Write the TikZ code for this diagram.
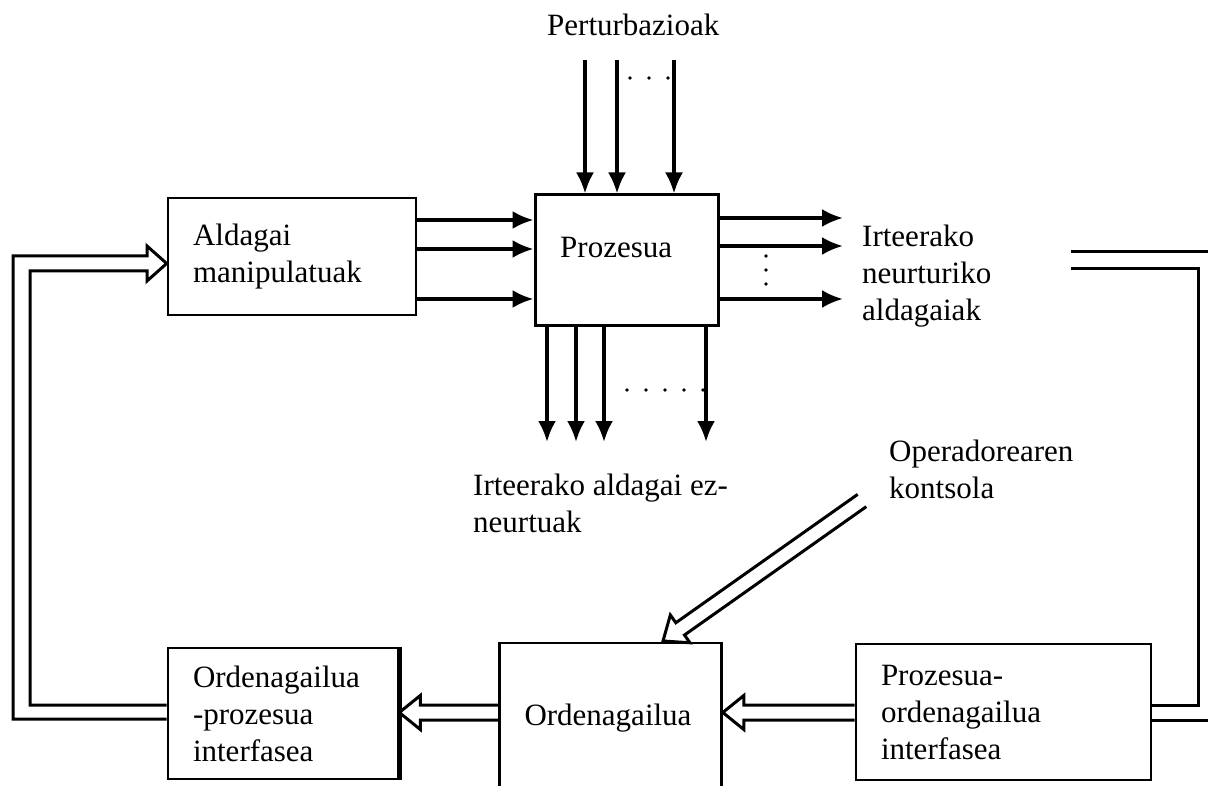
\documentclass[tikz,border=0pt]{standalone}
\usepackage{fontspec}
\setmainfont{Liberation Serif}
\usetikzlibrary{arrows.meta,calc}

% hollow (double-line) arrow from #1 to #2
\newcommand\hollowarrow[2]{%
  \path (#1) coordinate (ha-s) (#2) coordinate (ha-t);
  \path ($(ha-t)!21pt!(ha-s)$) coordinate (ha-b);
  \draw[dbl] ($(ha-s)!7.5pt!90:(ha-t)$) -- ($(ha-b)!7.5pt!90:(ha-t)$)
     -- ($(ha-b)!17pt!90:(ha-t)$) -- (ha-t) -- ($(ha-b)!17pt!-90:(ha-t)$)
     -- ($(ha-b)!7.5pt!-90:(ha-t)$) -- ($(ha-s)!7.5pt!-90:(ha-t)$);
}

\begin{document}
\begin{tikzpicture}[x=1pt,y=-1pt,
  every node/.style={font=\fontsize{31}{37}\selectfont, inner sep=0pt},
  box/.style={draw, line width=2.6pt, align=left},
  arr/.style={line width=3.2pt, -{Latex[length=21pt,width=18pt]}},
  dbl/.style={line width=3pt},
  lbl/.style={anchor=base west, align=left},
  dot/.style={fill=black}]
\useasboundingbox (0,0) rectangle (1208,786);
\clip (0,0) rectangle (1208,786);

% blocks
\node[box, minimum width=248pt, minimum height=117pt, text width=198pt] (am) at (292,256.5) {Aldagai\\manipulatuak};
\node[box, line width=3pt, minimum width=183pt, minimum height=131pt] (pr) at (626.5,260.5) {};
\node[lbl] (prlbl) at (560,258) {Prozesua};
\node[box, minimum width=230pt, minimum height=131pt, text width=180pt] (oi) at (283,713.5) {Ordenagailua\\-prozesua\\interfasea};
\draw[line width=4.5pt] (oi.north east) -- (oi.south east);
\node[box, minimum width=222pt, minimum height=150pt, text width=172pt] (ord) at (610.5,718) {Ordenagailua};
\node[box, minimum width=295pt, minimum height=136pt, text width=245pt] (po) at (1003.5,712) {Prozesua-\\ordenagailua\\interfasea};

% labels (base = baseline of the last line)
\node[lbl] (pert) at (547,36) {Perturbazioak};
\node[lbl] (outm) at (862,321) {Irteerako\\neurturiko\\aldagaiak};
\node[lbl] (outu) at (473,532) {Irteerako aldagai ez-\\neurtuak};
\node[lbl] (opk) at (889,498) {Operadorearen\\kontsola};

% disturbances
\coordinate (d1) at (585,60);
\coordinate (d2) at (617,60);
\coordinate (d3) at (674,60);
\foreach \c in {d1,d2,d3} \draw[arr] (\c) -- (\c |- pr.north);
\foreach \x in {630,649,668} \fill[dot] (\x,78) circle (1.8pt);

% manipulated variables
\foreach \y in {220,249,299} \draw[arr] (am.east |- 0,\y) -- (pr.west |- 0,\y);

% measured outputs
\coordinate (o1) at (843,218);
\coordinate (o2) at (843,246);
\coordinate (o3) at (843,299);
\foreach \c in {o1,o2,o3} \draw[arr] (pr.east |- \c) -- (\c);
\foreach \y in {256,270,284} \fill[dot] (766,\y) circle (1.8pt);

% unmeasured outputs
\coordinate (u1) at (547,442);
\coordinate (u2) at (576,442);
\coordinate (u3) at (604,442);
\coordinate (u4) at (706,442);
\foreach \c in {u1,u2,u3,u4} \draw[arr] (\c |- pr.south) -- (\c);
\foreach \x in {627,646,665,684,703} \fill[dot] (\x,390) circle (1.8pt);

% signal path through the computer
\hollowarrow{po.west |- 0,712.5}{ord.east |- 0,712.5}
\hollowarrow{ord.west |- 0,712.5}{oi.east |- 0,712.5}

% operator console
\coordinate (opc) at (862,500.5);
\coordinate (optip) at (663,641);
\hollowarrow{opc}{optip}

% feedback to the manipulated variables
\draw[dbl] (oi.west |- 0,705) -- (30,705) -- (30,271) -- (147,271) -- (147,281)
  -- (am.west |- 0,263.5) -- (147,246) -- (147,256) -- (13,256) -- (13,719) -- (oi.west |- 0,719);

% measured outputs back to the interface
\coordinate (m1) at (1071,252);
\coordinate (m2) at (1071,269);
\coordinate (m3) at (1220,252);
\coordinate (m4) at (1220,720);
\draw[dbl] (po.east |- 0,705) -- (1198,705) -- (1198,269) -- (m2);
\draw[dbl] (po.east |- m4) -- (m4);
\draw[dbl] (m1) -- (m3);
\end{tikzpicture}
\end{document}
